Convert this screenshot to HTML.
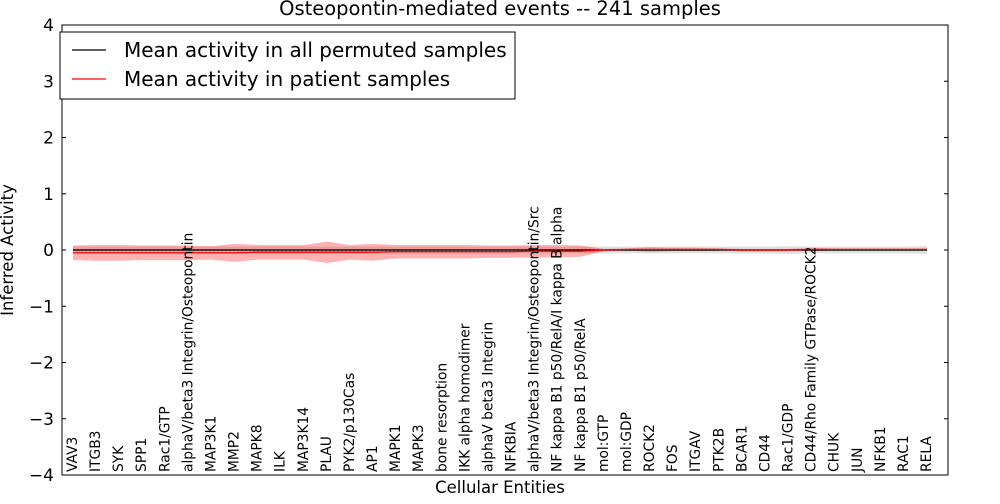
<!DOCTYPE html>
<html><head><meta charset="utf-8"><style>
body{margin:0;background:#fff;font-family:"DejaVu Sans","Liberation Sans",sans-serif}
</style></head><body>
<svg id="c" width="1000" height="500" xmlns="http://www.w3.org/2000/svg"></svg>
<script>
const categories=["VAV3","ITGB3","SYK","SPP1","Rac1/GTP","alphaV/beta3 Integrin/Osteopontin","MAP3K1","MMP2","MAPK8","ILK","MAP3K14","PLAU","PYK2/p130Cas","AP1","MAPK1","MAPK3","bone resorption","IKK alpha homodimer","alphaV beta3 Integrin","NFKBIA","alphaV/beta3 Integrin/Osteopontin/Src","NF kappa B1 p50/RelA/I kappa B alpha","NF kappa B1 p50/RelA","mol:GTP","mol:GDP","ROCK2","FOS","ITGAV","PTK2B","BCAR1","CD44","Rac1/GDP","CD44/Rho Family GTPase/ROCK2","CHUK","JUN","NFKB1","RAC1","RELA"];
const patientMean=[-0.05,-0.05,-0.05,-0.05,-0.05,-0.05,-0.05,-0.05,-0.04,-0.04,-0.04,-0.04,-0.04,-0.04,-0.03,-0.03,-0.03,-0.03,-0.03,-0.03,-0.02,-0.02,-0.02,0,0.01,0.01,0.01,0.01,0.01,0,0,0,0.01,0.01,0.01,0.01,0.01,0.01];
const patientSd=[0.13,0.14,0.14,0.13,0.13,0.13,0.12,0.16,0.13,0.13,0.13,0.19,0.13,0.15,0.12,0.12,0.12,0.12,0.11,0.11,0.11,0.11,0.1,0.02,0.02,0.04,0.03,0.03,0.02,0.02,0.02,0.02,0.03,0.02,0.02,0.02,0.02,0.02];
const permMean=[0,0,0,0,0,0,0,0,0,0,0,0,0,0,0,0,0,0,0,0,0,0,0,0,0,0,0,0,0,0,0,0,0,0,0,0,0,0];
const permSd=[0.06,0.06,0.06,0.06,0.06,0.06,0.06,0.06,0.06,0.06,0.06,0.06,0.06,0.06,0.06,0.06,0.06,0.06,0.06,0.06,0.06,0.06,0.06,0.06,0.06,0.06,0.06,0.06,0.06,0.06,0.06,0.07,0.06,0.06,0.06,0.06,0.06,0.07];
const yTicks=[-4,-3,-2,-1,0,1,2,3,4];
const L=62,R=948,T=25,B=475,NS="http://www.w3.org/2000/svg",svg=document.getElementById('c');
const X0=73,X1=927;
const x=i=>X0+i*(X1-X0)/(categories.length-1);
const y=v=>T+(4-v)/8*(B-T);
function el(t,a,p){const e=document.createElementNS(NS,t);for(const k in a)e.setAttribute(k,a[k]);(p||svg).appendChild(e);return e;}
function band(m,s,fill,op,name){let d=m.map((v,i)=>(i?'L':'M')+x(i)+','+y(v+s[i])).join('');for(let i=m.length-1;i>=0;i--)d+='L'+x(i)+','+y(m[i]-s[i]);const p=el('path',{d:d+'Z',fill:fill,'fill-opacity':op});}
function line(m,col,dash,name){const p=el('path',{d:m.map((v,i)=>(i?'L':'M')+x(i)+','+y(v)).join(''),stroke:col,fill:'none','stroke-width':1.2,'stroke-dasharray':dash});}
band(permMean,permSd,'#999',0.3,'permuted-band');
band(patientMean,patientSd,'#f00',0.3,'patient-band');
line(permMean,'#000','2,2','permuted-dots');
line(patientMean,'#f00','2,2','patient-dots');
line(permMean,'#000','','permuted-mean-line');
line(patientMean,'#f00','','patient-mean-line');
const fr=el('rect',{x:L,y:T,width:R-L,height:B-T,fill:'none',stroke:'#000'});

yTicks.forEach(v=>{el('line',{x1:L,x2:L+4,y1:y(v),y2:y(v),stroke:'#000'});el('line',{x1:R-4,x2:R,y1:y(v),y2:y(v),stroke:'#000'});
const t=el('text',{x:L-8,y:y(v)+6,'text-anchor':'end','font-size':17});t.textContent=(v<0?'\u2212'+(-v):v);
});
categories.forEach((c,i)=>{
const t=el('text',{x:0,y:0,transform:`translate(${x(i)+4},${B-3}) rotate(-90)`,'font-size':13.8});t.textContent=c;
});
let t=el('text',{x:500,y:15,'text-anchor':'middle','font-size':19.5});t.textContent='Osteopontin-mediated events -- 241 samples';

t=el('text',{x:500,y:493,'text-anchor':'middle','font-size':16.5});t.textContent='Cellular Entities';

t=el('text',{x:0,y:0,transform:'translate(13,250) rotate(-90)','text-anchor':'middle','font-size':16.5});t.textContent='Inferred Activity';

const g=el('g',{});
el('rect',{x:60,y:32,width:455,height:67,fill:'#fff',stroke:'#000'},g);
[['#000','Mean activity in all permuted samples',50],['#f00','Mean activity in patient samples',79]].forEach(([c,s,yy])=>{
el('line',{x1:72,x2:106,y1:yy,y2:yy,stroke:c,'stroke-width':1.2},g);
const tt=el('text',{x:124,y:yy+7,'font-size':20},g);tt.textContent=s;});
</script>
</body></html>
